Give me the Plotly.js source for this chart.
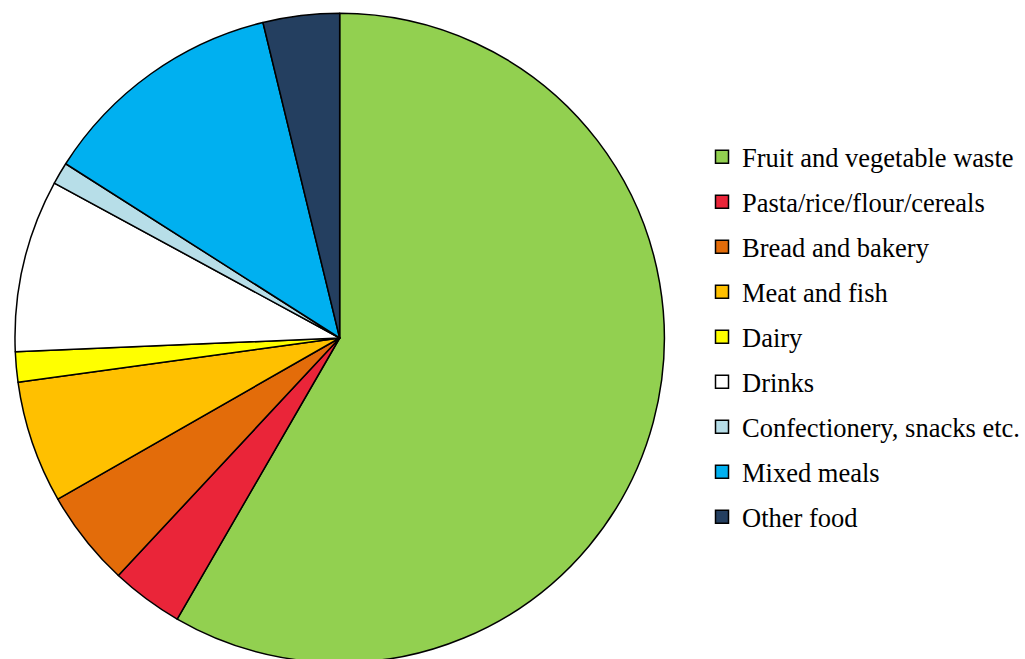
<!DOCTYPE html>
<html>
<head>
<meta charset="utf-8">
<script src="https://cdn.plot.ly/plotly-3.0.1.min.js"></script>
<style>html,body{margin:0;padding:0;overflow:hidden;background:#fff;}#chart{width:1025px;height:665px;}</style>
</head>
<body>
<div id="chart"></div>
<script>
const categories = ["Fruit and vegetable waste","Pasta/rice/flour/cereals","Bread and bakery","Meat and fish","Dairy","Drinks","Confectionery, snacks etc.","Mixed meals","Other food"];
const shares = [58.4, 3.6, 4.8, 6.1, 1.5, 8.6, 1.1, 12.2, 3.8];
const colors = ["#92D050","#EA2539","#E36C0A","#FFC000","#FFFF00","#FFFFFF","#B7DEE8","#00B0F0","#243F60"];

const W = 1025, H = 665;
const cx = 340, cyTop = 338, r = 325;

const traces = [{
  type: 'pie',
  labels: categories,
  values: shares,
  sort: false,
  direction: 'clockwise',
  rotation: 0,
  textinfo: 'none',
  hoverinfo: 'label+percent',
  showlegend: false,
  marker: {colors: colors, line: {color: '#000000', width: 1.5}},
  domain: {x: [(cx - r) / W, (cx + r) / W], y: [(H - cyTop - r) / H, (H - cyTop + r) / H]}
}];

categories.forEach((c, i) => {
  traces.push({
    type: 'scatter', mode: 'markers', x: [null], y: [null],
    name: c, legendgroup: 'g' + i, showlegend: true,
    marker: {symbol: 'square', size: 13, color: colors[i], line: {color: '#000000', width: 1.5}},
    hoverinfo: 'skip'
  });
});

const layout = {
  width: W, height: H,
  margin: {l: 0, r: 0, t: 0, b: 0},
  paper_bgcolor: '#ffffff', plot_bgcolor: '#ffffff',
  xaxis: {visible: false}, yaxis: {visible: false},
  showlegend: true,
  legend: {
    x: 703 / W, xanchor: 'left',
    y: (H - 133) / H, yanchor: 'top',
    traceorder: 'grouped',
    tracegroupgap: 7.55,
    font: {family: 'Liberation Serif', size: 26.5, color: '#000000'},
    bgcolor: 'rgba(0,0,0,0)'
  }
};

Plotly.newPlot('chart', traces, layout, {displayModeBar: false, staticPlot: true});
</script>
</body>
</html>
